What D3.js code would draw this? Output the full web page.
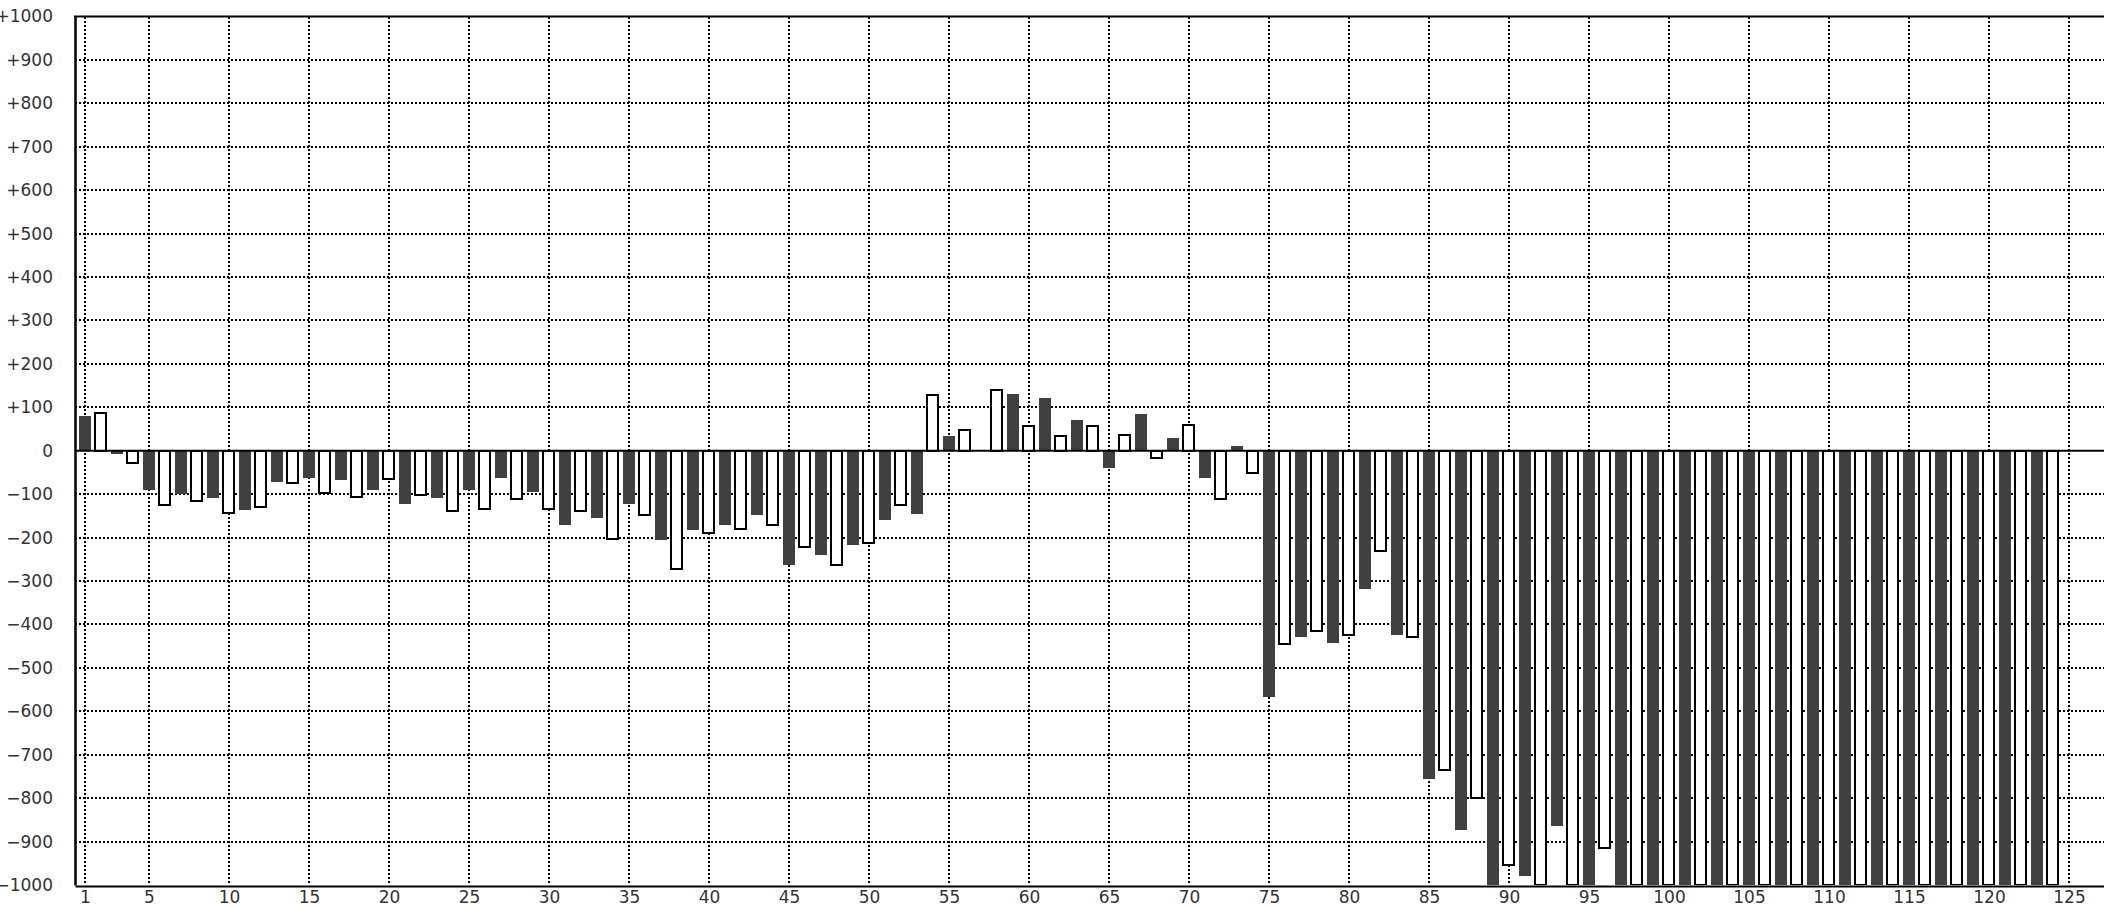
<!DOCTYPE html>
<html><head><meta charset="utf-8">
<script src="https://cdn.jsdelivr.net/npm/d3@7"></script>
<style>html,body{margin:0;padding:0;background:#fff;overflow:hidden}</style>
</head><body><svg id="chart" width="2104" height="906"></svg>
<script>
// ---- data ----
const values = [
  80, 88, -7, -28, -90, -125, -99, -116, -108, -143,
  -136, -130, -71, -74, -62, -97, -67, -106, -90, -65,
  -122, -102, -108, -139, -90, -134, -62, -112, -94, -134,
  -172, -139, -154, -203, -122, -148, -205, -272, -182, -189,
  -172, -180, -149, -171, -264, -221, -241, -263, -218, -212,
  -159, -125, -145, 129, 34, 47, 0, 139, 131, 56,
  121, 33, 70, 56, -40, 37, 84, -16, 29, 60,
  -62, -112, 10, -52, -566, -446, -429, -414, -443, -424,
  -319, -231, -424, -428, -755, -735, -874, -799, -1000, -955,
  -979, -1000, -864, -1000, -1000, -914, -1000, -1000, -1000, -1000,
  -1000, -1000, -1000, -1000, -1000, -1000, -1000, -1000, -1000, -1000,
  -1000, -1000, -1000, -1000, -1000, -1000, -1000, -1000, -1000, -1000,
  -1000, -1000, -1000, -1000
];
const categories = values.map((v, i) => i + 1);
const xTickValues = [1, 5, 10, 15, 20, 25, 30, 35, 40, 45, 50, 55, 60, 65, 70, 75, 80, 85, 90, 95, 100, 105, 110, 115, 120, 125];
const yTickValues = [-1000, -900, -800, -700, -600, -500, -400, -300, -200, -100, 0, 100, 200, 300, 400, 500, 600, 700, 800, 900, 1000];
const yTickLabels = ["\u22121000", "\u2212900", "\u2212800", "\u2212700", "\u2212600", "\u2212500", "\u2212400", "\u2212300", "\u2212200", "\u2212100", "0",
  "+100", "+200", "+300", "+400", "+500", "+600", "+700", "+800", "+900", "+1000"];

// ---- layout ----
const W = 2104, H = 906;
const plotLeft = 75, plotRight = 2104, plotTop = 16.5, plotBottom = 885;
const darkFill = "#404040";
const font = "'DejaVu Sans', sans-serif";

const x = d3.scaleLinear().domain([0.375, 127.1875]).range([plotLeft, plotRight]);
const y = d3.scaleLinear().domain([-1000, 1000]).range([plotBottom, plotTop]);

const svg = d3.select("#chart");
svg.append("rect").attr("width", W).attr("height", H).attr("fill", "#fff");

svg.append("defs").append("clipPath").attr("id", "plotclip")
  .append("rect").attr("x", plotLeft).attr("y", plotTop).attr("width", plotRight - plotLeft).attr("height", plotBottom - plotTop);

// grid
const grid = svg.append("g").attr("shape-rendering", "crispEdges");
grid.selectAll("line.h").data(yTickValues.filter(d => d !== 0 && Math.abs(d) !== 1000)).join("line")
  .attr("class", "h")
  .attr("x1", plotLeft).attr("x2", plotRight)
  .attr("y1", d => y(d)).attr("y2", d => y(d))
  .attr("stroke", "#000").attr("stroke-width", 2).attr("stroke-dasharray", "2,2");
grid.selectAll("line.v").data(xTickValues).join("line")
  .attr("class", "v")
  .attr("x1", d => x(d)).attr("x2", d => x(d))
  .attr("y1", plotTop).attr("y2", plotBottom)
  .attr("stroke", "#000").attr("stroke-width", 2).attr("stroke-dasharray", "2,2");

// bars
const bars = svg.append("g").attr("clip-path", "url(#plotclip)").attr("shape-rendering", "crispEdges");
const data = categories.map((c, i) => ({ c, v: values[i] })).filter(d => d.v !== 0);
bars.selectAll("rect").data(data).join("rect")
  .attr("x", d => d.c % 2 === 1 ? x(d.c) - 6 : x(d.c) - 6)
  .attr("width", d => d.c % 2 === 1 ? 12 : 11)
  .attr("y", d => Math.min(y(0), y(d.v)))
  .attr("height", d => Math.abs(y(d.v) - y(0)))
  .attr("fill", d => d.c % 2 === 1 ? darkFill : "#fff")
  .attr("stroke", d => d.c % 2 === 1 ? "none" : "#000")
  .attr("stroke-width", 2);

// zero line
svg.append("line")
  .attr("x1", plotLeft).attr("x2", plotRight)
  .attr("y1", y(0)).attr("y2", y(0))
  .attr("stroke", "#000").attr("stroke-width", 2);

// top border
svg.append("line")
  .attr("x1", plotLeft - 1).attr("x2", plotRight)
  .attr("y1", plotTop).attr("y2", plotTop)
  .attr("stroke", "#000").attr("stroke-width", 2);

// axes
const yAxis = d3.axisLeft(y).tickValues(yTickValues)
  .tickFormat((d, i) => yTickLabels[i]).tickSize(0).tickSizeOuter(0).tickPadding(22);
const gy = svg.append("g").attr("transform", `translate(${plotLeft},0)`).call(yAxis);
gy.select(".domain").attr("stroke", "#000").attr("stroke-width", 2.5);
gy.selectAll("text").attr("font-family", font).attr("font-size", 17).attr("fill", "#333");

const xAxis = d3.axisBottom(x).tickValues(xTickValues).tickSize(0).tickSizeOuter(0).tickPadding(5);
const gx = svg.append("g").attr("transform", `translate(0,${plotBottom + 1})`).call(xAxis);
gx.select(".domain").attr("stroke", "#000").attr("stroke-width", 2);
gx.selectAll("text").attr("font-family", font).attr("font-size", 17).attr("fill", "#333");
</script>
</body></html>
